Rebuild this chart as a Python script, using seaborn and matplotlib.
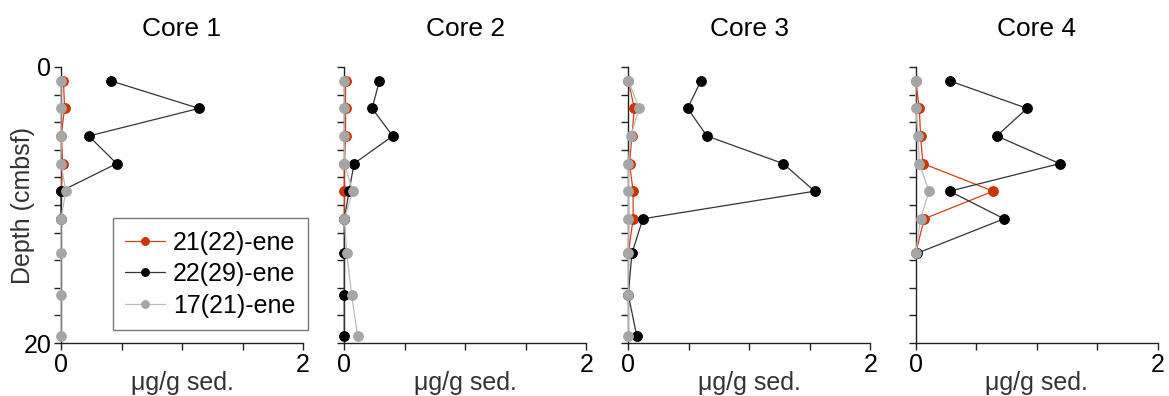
import numpy as np
import pandas as pd
import matplotlib
matplotlib.use("Agg")
import matplotlib.pyplot as plt
import seaborn as sns

nan = np.nan
depth = [1, 3, 5, 7, 9, 11, 13.5, 16.5, 19.5]
cores = ["Core 1", "Core 2", "Core 3", "Core 4"]
series = ["21(22)-ene", "22(29)-ene", "17(21)-ene"]

core1_red = [0.02, 0.03, 0.0, 0.015, 0.0, nan, nan, nan, nan]
core1_black = [0.41, 1.14, 0.23, 0.46, 0.0, 0.0, nan, nan, nan]
core1_gray = [0.0, 0.0, 0.0, 0.0, 0.04, 0.0, 0.0, 0.0, 0.0]

core2_red = [0.01, 0.01, 0.01, 0.0, 0.0, 0.0, nan, nan, nan]
core2_black = [0.29, 0.23, 0.40, 0.08, 0.04, 0.0, 0.0, 0.0, 0.0]
core2_gray = [0.0, 0.0, 0.0, 0.0, 0.07, 0.0, 0.02, 0.06, 0.11]

core3_red = [0.0, 0.05, 0.03, 0.01, 0.04, 0.04, 0.0, nan, nan]
core3_black = [0.60, 0.49, 0.65, 1.28, 1.54, 0.12, 0.03, 0.0, 0.07]
core3_gray = [0.0, 0.09, 0.02, 0.0, 0.0, 0.0, 0.0, 0.0, 0.0]

core4_red = [0.0, 0.03, 0.04, 0.06, 0.64, 0.07, 0.0, nan, nan]
core4_black = [0.28, 0.92, 0.67, 1.19, 0.28, 0.73, 0.01, nan, nan]
core4_gray = [0.0, 0.0, 0.02, 0.03, 0.11, 0.04, 0.0, nan, nan]

data = {
    "Core 1": [core1_red, core1_black, core1_gray],
    "Core 2": [core2_red, core2_black, core2_gray],
    "Core 3": [core3_red, core3_black, core3_gray],
    "Core 4": [core4_red, core4_black, core4_gray],
}

colors = ["#CC3300", "#000000", "#A6A6A6"]
line_colors = ["#D2401A", "#333333", "#BBBBBB"]

sns.set_style("ticks")
plt.rcParams["font.family"] = ["Liberation Sans", "DejaVu Sans"]
plt.rcParams["text.color"] = "black"
plt.rcParams["xtick.labelcolor"] = "black"
plt.rcParams["ytick.labelcolor"] = "black"

fig = plt.figure(figsize=(11.69, 3.96), dpi=100)
lefts = [61, 344.3, 628.3, 915.7]
W, H = 1169.0, 396.0
axes = []
for i, core in enumerate(cores):
    ax = fig.add_axes([lefts[i] / W, (H - 343) / H, 242 / W, 276 / H])
    axes.append(ax)
    for j, s in enumerate(series):
        df = pd.DataFrame({"depth": depth, "value": data[core][j]}).dropna()
        sns.lineplot(data=df, x="value", y="depth", sort=False, estimator=None,
                     ax=ax, color=line_colors[j], linewidth=0.9, marker="o",
                     markersize=7, markerfacecolor=colors[j],
                     markeredgecolor=colors[j], label=s, legend=False,
                     clip_on=False, zorder=3 + j)
    ax.set_xlim(0, 2)
    ax.set_ylim(20, 0)
    ax.set_xticks([0, 0.5, 1, 1.5, 2])
    ax.set_xticklabels(["0", "", "", "", "2"])
    ax.set_yticks(np.arange(0, 21, 2))
    if i == 0:
        ax.set_yticklabels(["0"] + [""] * 9 + ["20"])
        ax.set_ylabel("Depth (cmbsf)", fontsize=18, color="#333333")
        ax.yaxis.set_label_coords(-0.107, 0.5)
    else:
        ax.set_yticklabels([])
        ax.set_ylabel("")
    ax.set_xlabel("μg/g sed.", fontsize=18, color="#333333", labelpad=-4)
    ax.set_title(core, fontsize=19, pad=22, color="black")
    sns.despine(ax=ax)
    for sp in ["left", "bottom"]:
        ax.spines[sp].set_color("#222222")
        ax.spines[sp].set_linewidth(1.0)
    ax.tick_params(axis="both", direction="out", length=5, width=1,
                   color="#222222", labelcolor="black", labelsize=18, pad=2)

h, l = axes[0].get_legend_handles_labels()
leg = axes[0].legend(h, l, loc="lower right", bbox_to_anchor=(1.02, 0.047),
                     fontsize=18, frameon=True, fancybox=False,
                     edgecolor="#555555", handlelength=1.6, handletextpad=0.3,
                     borderpad=0.5, labelspacing=0.3, markerscale=0.8,
                     borderaxespad=0)
leg.get_frame().set_linewidth(1.0)
for t in leg.get_texts():
    t.set_color("black")

fig.savefig("out.png", dpi=100)
